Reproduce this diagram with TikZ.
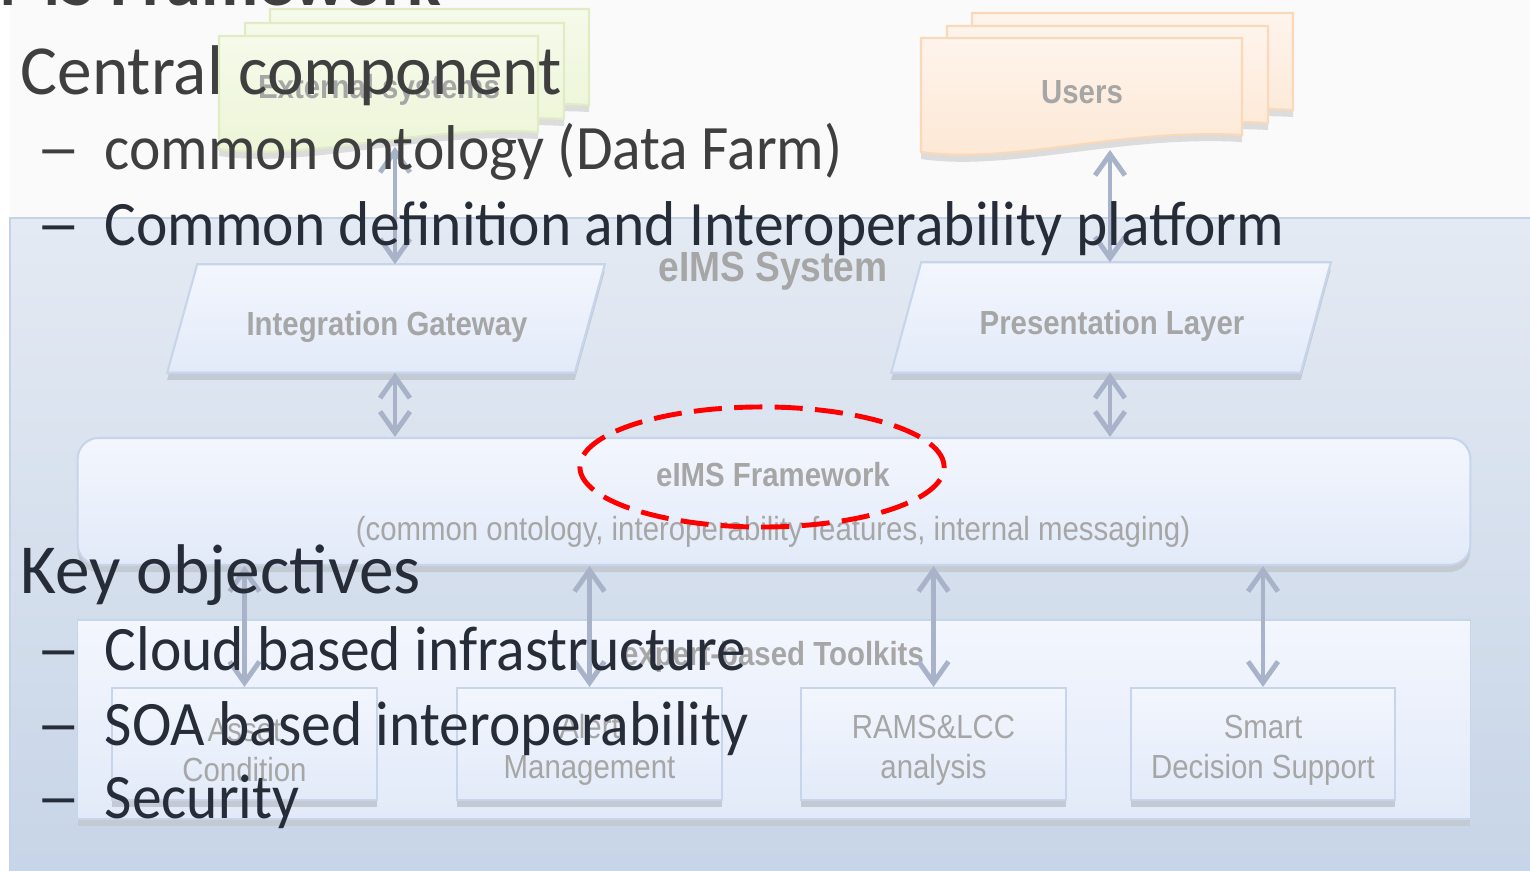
\documentclass[tikz,border=0pt]{standalone}
\usepackage{fontspec}
\setmainfont{Carlito}
\newfontfamily\bigfont[FakeStretch=0.985]{Carlito}
\newfontfamily\subfont[FakeStretch=0.94]{Carlito}
\newfontfamily\diagfont[FakeStretch=0.88]{Liberation Sans}
\usetikzlibrary{arrows.meta,shapes.geometric,shadows}

\definecolor{slidebg}{HTML}{FAFAFA}
\definecolor{systop}{HTML}{E4EAF3}
\definecolor{sysbot}{HTML}{C6D4E7}
\definecolor{sysline}{HTML}{C5D3E6}
\definecolor{boxtop}{HTML}{F3F6FD}
\definecolor{boxbot}{HTML}{E2EAF9}
\definecolor{boxline}{HTML}{C7D5EB}
\definecolor{shadowcol}{HTML}{C4CAD4}
\definecolor{docshadow}{HTML}{DCDCDC}
\definecolor{arrowcol}{HTML}{A8B2C8}
\definecolor{diaggray}{HTML}{A6A6A6}
\definecolor{exttop}{HTML}{F5FAEA}
\definecolor{extbot}{HTML}{ECF5D6}
\definecolor{extline}{HTML}{E0ECC4}
\definecolor{usertop}{HTML}{FEF4EC}
\definecolor{userbot}{HTML}{FDE7D3}
\definecolor{userline}{HTML}{FAD8BA}
\definecolor{ovgray}{HTML}{3F3F3F}
\definecolor{ovdark}{HTML}{262C38}

\tikzset{
  diagtxt/.style={font=\diagfont\fontsize{9.5}{11.4}\selectfont, text=diaggray, align=center, inner sep=0},
  diagbold/.style={diagtxt, font=\diagfont\bfseries\fontsize{9.5}{11.4}\selectfont},
  softshadow/.style={drop shadow={shadow xshift=0pt, shadow yshift=-2pt, fill=shadowcol, opacity=1}},
  sysarea/.style={draw=sysline, line width=0.4pt, top color=systop, bottom color=sysbot},
  parabox/.style={draw=boxline, line width=0.6pt, top color=boxtop, bottom color=boxbot, softshadow},
  roundbox/.style={draw=boxline, line width=0.6pt, top color=boxtop, bottom color=boxbot,
    rounded corners=6pt, inner sep=0, softshadow},
  tkarea/.style={draw=boxline, line width=0.4pt, top color=boxtop, bottom color=boxbot,
    inner sep=0, softshadow},
  toolbox/.style={draw=boxline, line width=0.6pt, top color=boxtop, bottom color=boxbot,
    minimum width=2.64cm, minimum height=1.12cm, inner sep=0, softshadow},
  extdoc/.style={draw=extline, line width=0.6pt, top color=exttop, bottom color=extbot,
    drop shadow={shadow xshift=0pt, shadow yshift=-2pt, fill=docshadow, opacity=1}},
  userdoc/.style={draw=userline, line width=0.6pt, top color=usertop, bottom color=userbot,
    drop shadow={shadow xshift=0pt, shadow yshift=-2pt, fill=docshadow, opacity=1}},
  biarrow/.style={draw=arrowcol, line width=1.4pt, >={Straight Barb[length=6pt,width=8.5pt]}, <->},
  focusring/.style={ellipse, draw=red, line width=1.4pt, dash pattern=on 8pt off 3.5pt,
    minimum width=3.64cm, minimum height=1.2cm, inner sep=0},
  ovmain/.style={anchor=base west, inner sep=0, font=\bigfont\fontsize{20}{24}\selectfont},
  ovsub/.style={anchor=base west, inner sep=0, font=\subfont\fontsize{18}{22}\selectfont},
  ovdash/.style={ovsub, xscale=1.5}
}

\begin{document}
\begin{tikzpicture}[x=0.01cm, y=-0.01cm]
\useasboundingbox (0,0) rectangle (1530,871);
\clip (0,0) rectangle (1530,871);
\fill[white] (0,0) rectangle (1530,871);
\fill[slidebg] (10,0) rectangle (1530,218);

% slide title, cut off at the top
\node[anchor=base west, inner sep=0, font=\bfseries\fontsize{20}{24}\selectfont, text=ovgray]
  (title) at (-55,6) {eIMS Framework};

% system area
\filldraw[sysarea] (10,218) rectangle (1560,900);
\node[diagbold, font=\diagfont\bfseries\fontsize{12}{14}\selectfont] (sysname) at (773,271) {eIMS System};

% external systems
\foreach \dx/\dy in {51/27, 26/13, 0/0}
  \filldraw[extdoc] (219+\dx,36-\dy) -- (538+\dx,36-\dy) -- (538+\dx,132-\dy)
    .. controls (416+\dx,125-\dy) and (308+\dx,162-\dy) .. (219+\dx,149-\dy) -- cycle;
\node[diagbold] (ext) at (379,90) {External systems};
\coordinate (extfoot) at (395,147);

% users
\foreach \dx/\dy in {51/25, 26/12, 0/0}
  \filldraw[userdoc] (921+\dx,38-\dy) -- (1242+\dx,38-\dy) -- (1242+\dx,135-\dy)
    .. controls (1120+\dx,128-\dy) and (1010+\dx,165-\dy) .. (921+\dx,152-\dy) -- cycle;
\node[diagbold] (users) at (1082,92) {Users};
\coordinate (userfoot) at (1110,150);

% gateway and presentation layer
\node[inner sep=0, minimum width=4.36cm, minimum height=1.07cm] (ig) at (386,318.5) {};
\filldraw[parabox] (ig.south west) -- ([xshift=0.3cm]ig.north west) -- (ig.north east)
  -- ([xshift=-0.3cm]ig.south east) -- cycle;
\node[diagbold] (igname) at (387,327) {Integration Gateway};

\node[inner sep=0, minimum width=4.38cm, minimum height=1.09cm] (pl) at (1111,317.5) {};
\filldraw[parabox] (pl.south west) -- ([xshift=0.3cm]pl.north west) -- (pl.north east)
  -- ([xshift=-0.3cm]pl.south east) -- cycle;
\node[diagbold] (plname) at (1112,326) {Presentation Layer};

% framework
\node[roundbox, minimum width=13.92cm, minimum height=1.27cm] (fw) at (774,501.5) {};
\node[diagbold] (fwname) at (773,475) {eIMS Framework};
\node[diagtxt] (fwsub) at (773,532) {(common ontology, interoperability features, internal messaging)};

% toolkits
\node[tkarea, minimum width=13.92cm, minimum height=1.99cm] (tk) at (774,719.5) {};
\node[diagbold] (tkname) at (773,657) {expert-based Toolkits};
\node[toolbox] (asset) at (244.5,744) {};
\node[toolbox] (alert) at (589.5,744) {};
\node[toolbox] (rams) at (933.5,744) {};
\node[toolbox] (smart) at (1263,744) {};
\node[diagtxt] (assettxt) at (244.5,750) {Asset\\Condition};
\node[diagtxt] (alerttxt) at (589.5,750) {Alert\\Management};
\node[diagtxt] (ramstxt) at (933.5,750) {RAMS\&LCC\\analysis};
\node[diagtxt] (smarttxt) at (1263,750) {Smart\\Decision Support};

% connectors
\draw[biarrow] (extfoot) -- (extfoot |- ig.north);
\draw[biarrow] (userfoot) -- (userfoot |- pl.north);
\draw[biarrow] (ig.south -| extfoot) -- (fw.north -| extfoot);
\draw[biarrow] (pl.south -| userfoot) -- (fw.north -| userfoot);
\foreach \b in {asset,alert,rams,smart}
  \draw[biarrow] (fw.south -| \b.north) -- (\b.north);

\node[focusring] (focus) at (762,467) {};

% slide text
\node[ovmain, text=ovgray] (central) at (20,95) {Central component};
\node[ovdash, text=ovgray] (dashA) at (35,170) {–};
\node[ovsub, text=ovgray] (itemA) at (104,170) {common ontology (Data Farm)};
\node[ovdash, text=ovdark] (dashB) at (35,246) {–};
\node[ovsub, text=ovdark] (itemB) at (104,246) {Common definition and Interoperability platform};
\node[ovmain, text=ovdark] (keyobj) at (20,594) {Key objectives};
\node[ovdash, text=ovdark] (dashC) at (35,671) {–};
\node[ovsub, text=ovdark] (itemC) at (104,671) {Cloud based infrastructure};
\node[ovdash, text=ovdark] (dashD) at (35,746) {–};
\node[ovsub, text=ovdark] (itemD) at (104,746) {SOA based interoperability};
\node[ovdash, text=ovdark] (dashE) at (35,819) {–};
\node[ovsub, text=ovdark] (itemE) at (104,819) {Security};
\end{tikzpicture}
\end{document}
